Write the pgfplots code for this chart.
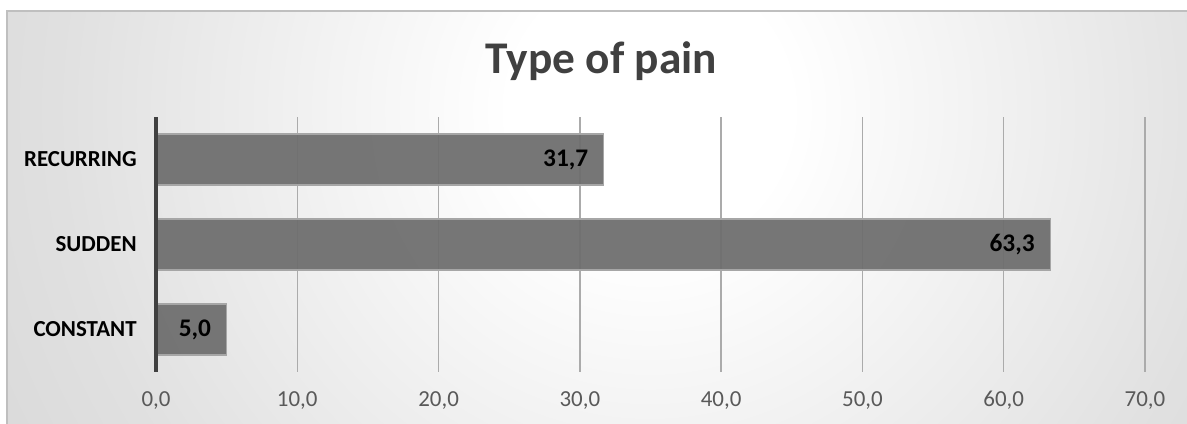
\documentclass[border=0pt]{standalone}
\usepackage{pgfplots}
\pgfplotsset{compat=1.18}
\usepackage{fontspec}
\setmainfont{Carlito}
\definecolor{barfill}{HTML}{6E6E6E}
\definecolor{baredge}{HTML}{A6A6A6}
\definecolor{titlegray}{HTML}{404040}
\definecolor{tickgray}{HTML}{595959}
\definecolor{gridgray}{HTML}{ABABAB}
\definecolor{framegray}{HTML}{BFBFBF}
% circular light-to-gray background of the chart area
\pgfdeclareradialshading{chartbg}{\pgfpoint{0bp}{0bp}}{%
  color(0bp)=(white); color(5bp)=(white); color(21bp)=(black!12); color(43bp)=(black!23); color(50bp)=(black!26); color(75bp)=(black!27)}

\pgfplotstableread{
y value
0 5.0
1 63.3
2 31.7
}\paindata

\begin{document}
\begin{tikzpicture}
% fixed canvas
\path[use as bounding box] (0,0) rectangle (890.25pt,318pt);
\fill[white] (0,0) rectangle (890.25pt,318pt);
\begin{scope}
  \clip (5.25pt,-2pt) rectangle (892pt,309.75pt);
  \shade[shading=chartbg] (-38pt,-289.5pt) rectangle (1012pt,760.5pt);
\end{scope}
\draw[framegray, line width=1.5pt] (5.25pt,-2pt) -- (5.25pt,309.75pt) -- (892pt,309.75pt);

\node[font=\fontsize{34}{40}\selectfont\bfseries, text=titlegray] at (451pt,272pt) {Type of pain};

\begin{axis}[
  at={(117pt,39pt)}, anchor=south west,
  scale only axis, width=741.75pt, height=191.25pt,
  xbar, bar width=38.25pt,
  xmin=0, xmax=70, ymin=-0.5, ymax=2.5,
  axis line style={draw=none},
  xtick={0,10,...,70},
  ytick={0,1,2},
  yticklabels={CONSTANT,SUDDEN,RECURRING},
  major tick length=0pt,
  xmajorgrids, major grid style={gridgray, line width=1.1pt},
  /pgf/number format/.cd, fixed, fixed zerofill, precision=1, use comma, assume math mode=true,
  /pgfplots/.cd,
  xticklabel style={font=\fontsize{17.2}{20}\selectfont, text=tickgray, yshift=-11pt},
  yticklabel style={font=\fontsize{17.2}{20}\selectfont\bfseries, text=black, xshift=-11pt},
  nodes near coords,
  nodes near coords style={font=\fontsize{19}{22}\selectfont\bfseries, text=black, anchor=east, xshift=-8pt},
  every node near coord/.append style={/pgf/number format/.cd, fixed, fixed zerofill, precision=1, use comma},
  clip=false,
]
\addplot[fill=barfill, fill opacity=0.94, draw=baredge, line width=0.8pt, text opacity=1] table[x=value, y=y] {\paindata};
\draw[black!75, line width=2.4pt] (axis cs:0,-0.5) -- (axis cs:0,2.5);
\end{axis}
\end{tikzpicture}
\end{document}
